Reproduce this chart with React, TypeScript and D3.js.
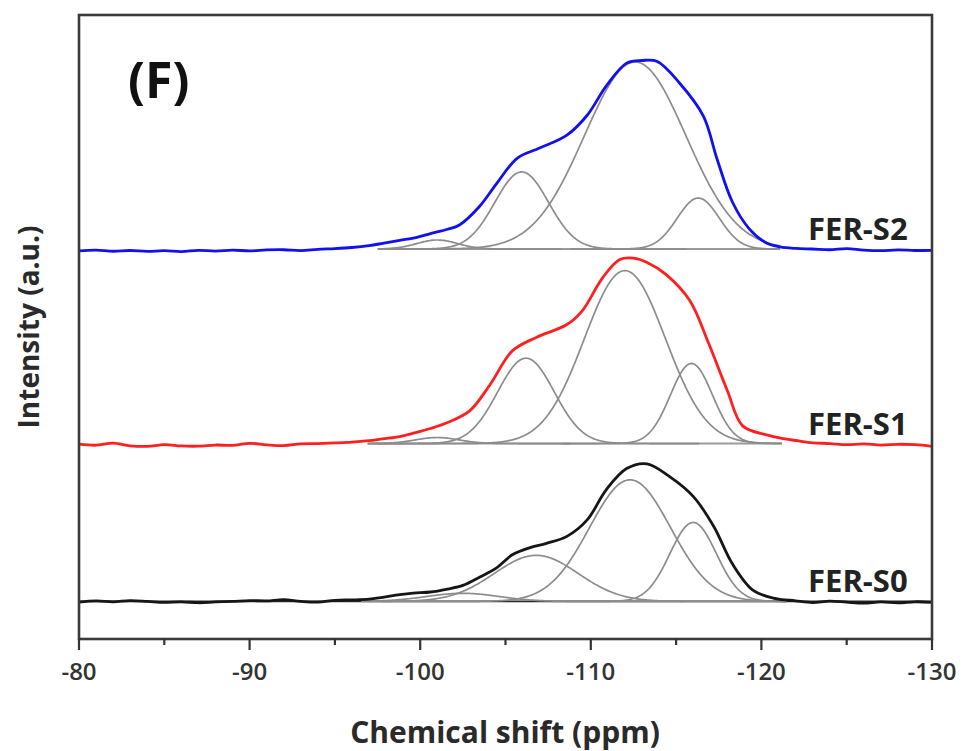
import React from "react";
import * as d3 from "d3";

// 29Si MAS NMR spectra of the FER samples with their Gaussian deconvolution

const X_TICKS = [-80, -90, -100, -110, -120, -130];
const X_MINOR = [-85, -95, -105, -115, -125];

const SAMPLE_NAMES = ["FER-S0", "FER-S1", "FER-S2"];
const SAMPLE_COLORS = ["#161616", "#ff1f1f", "#1010f0"];
const SAMPLE_OFFSETS = [0, 84, 187.5];

// measured spectra (chemical shift in ppm, intensity in a.u.)
const SHIFT_S0 = [-80, -81, -82, -83, -84, -85, -86, -87, -88, -89, -90, -91, -92, -93, -94, -95, -96, -97, -97.8, -98.8, -99.6, -100.6, -101.6, -102.5, -103.5, -104.5, -105.4, -106.4, -107.4, -108.6, -109.8, -110.9, -112.1, -113.3, -114.6, -116, -117.2, -118.3, -119.5, -120.7, -122, -123, -124, -125, -126, -127, -128, -129, -130];
const INT_S0 = [-0.4, 0.3, -0.2, 0.4, 0.0, -0.5, -0.2, -0.7, -0.3, 0.0, 0.4, 0.3, 0.9, 0.0, -0.4, 0.6, 0.8, 1.2, 2.2, 3.6, 4.4, 5.0, 6.6, 8.5, 13.0, 18.0, 24.8, 28.5, 30.9, 34.6, 43.5, 59.4, 70.7, 73.2, 66.5, 55.9, 40.0, 20.0, 6.0, 1.8, 0.3, -0.6, 0.2, -0.4, -0.9, -0.3, -0.8, -0.2, -0.5];

const SHIFT_S1 = [-80, -81, -82, -83, -84, -85, -86, -87, -88, -89, -90, -91, -92, -93, -94, -95, -96, -97, -97.8, -98.8, -99.6, -100.6, -101.6, -102.9, -104.1, -105.4, -106.8, -108.6, -109.5, -110.7, -111.7, -112.5, -113.3, -114.4, -115.8, -116.9, -118, -118.9, -120.3, -121.3, -122.1, -123, -124, -125, -126, -127, -128, -129, -130];
const INT_S1 = [-0.3, -0.9, 0.2, -1.2, -1.5, -0.6, -1.3, -1.4, -0.8, -1.0, 0.1, -0.7, -1.1, -0.2, 0.0, 0.3, 0.7, 1.5, 2.5, 3.7, 5.5, 8.0, 11.2, 17.4, 31.4, 49.3, 56.4, 63.3, 70.6, 88.3, 97.9, 98.6, 96.3, 90.0, 76.1, 53.5, 28.2, 9.4, 4.6, 2.6, 1.5, 0.4, 0.0, -0.6, -0.2, -0.8, -0.4, -0.6, -1.5];

const SHIFT_S2 = [-80, -81, -82, -83, -84, -85, -86, -87, -88, -89, -90, -91, -92, -93, -94, -95, -96, -97, -97.8, -98.8, -99.8, -100.6, -101.6, -102.3, -103.5, -104.5, -105.7, -107, -108.6, -109.8, -110.9, -112.1, -113, -113.9, -115.2, -116.6, -117.4, -118.3, -119.3, -120.3, -121.1, -122, -123, -124, -125, -126, -127, -128, -129, -130];
const INT_S2 = [-1.0, -0.6, -1.2, -0.8, -1.3, -0.9, -1.4, -0.7, -1.1, -0.6, -1.0, -0.5, -0.4, -0.9, -0.2, 0.2, 0.8, 1.8, 3.0, 4.6, 6.2, 8.2, 10.5, 12.8, 22.9, 35.1, 48.4, 53.7, 60.6, 71.3, 86.7, 98.9, 100.3, 99.8, 88.3, 70.7, 47.9, 25.0, 10.6, 3.2, 1.1, 0.3, 0.0, -0.4, 0.2, -0.6, -0.9, -0.5, -0.8, -0.7];

// fitted Gaussian components: centre (ppm), height (a.u.), FWHM (ppm)
const FIT_CENTERS_S0 = [-102.5, -106.8, -112.3, -116.0];
const FIT_HEIGHTS_S0 = [4.3, 24.5, 64.7, 42.0];
const FIT_WIDTHS_S0 = [5.0, 5.8, 5.6, 3.2];

const FIT_CENTERS_S1 = [-101.0, -106.2, -112.0, -115.9];
const FIT_HEIGHTS_S1 = [3.2, 45.4, 92.0, 42.6];
const FIT_WIDTHS_S1 = [3.0, 3.9, 5.6, 2.9];

const FIT_CENTERS_S2 = [-101.0, -105.95, -112.6, -116.3];
const FIT_HEIGHTS_S2 = [4.8, 41.0, 99.5, 27.1];
const FIT_WIDTHS_S2 = [2.8, 3.7, 7.0, 2.9];

// ppm window of each fit, and extent of the baseline line drawn under each spectrum
const FIT_WINDOWS = [[-96.5, -121.5], [-96.9, -121.2], [-97.5, -121.1]];
const BASELINE_RANGES = [[-80, -130], [-96.9, -121.2], [-97.5, -121.1]];

const W = 967;
const H = 751;
const M = { left: 79, right: 932, top: 15, bottom: 639 };
const FONT = "'Open Sans', 'Noto Sans', sans-serif";

export default function App() {
  const x = d3.scaleLinear().domain([-80, -130]).range([M.left, M.right]);
  const y = d3.scaleLinear().domain([-20, 312]).range([M.bottom, M.top]);

  const spectra = [
    { shift: SHIFT_S0, int: INT_S0 },
    { shift: SHIFT_S1, int: INT_S1 },
    { shift: SHIFT_S2, int: INT_S2 },
  ];
  const fits = [
    { c: FIT_CENTERS_S0, h: FIT_HEIGHTS_S0, w: FIT_WIDTHS_S0 },
    { c: FIT_CENTERS_S1, h: FIT_HEIGHTS_S1, w: FIT_WIDTHS_S1 },
    { c: FIT_CENTERS_S2, h: FIT_HEIGHTS_S2, w: FIT_WIDTHS_S2 },
  ];

  const line = d3
    .line<[number, number]>()
    .x((d) => x(d[0]))
    .y((d) => y(d[1]))
    .curve(d3.curveCatmullRom.alpha(0.5));

  const componentPath = (c: number, h: number, w: number, off: number, win: number[]) => {
    const lo = Math.max(c - 2.6 * w, win[1]);
    const hi = Math.min(c + 2.6 * w, win[0]);
    const pts: [number, number][] = d3
      .range(lo, hi, 0.05)
      .map((p) => [p, off + h * Math.exp((-4 * Math.LN2 * (p - c) * (p - c)) / (w * w))]);
    return d3.line<[number, number]>().x((d) => x(d[0])).y((d) => y(d[1]))(pts) || "";
  };

  return (
    <svg
      width={W}
      height={H}
      style={{ position: "absolute", left: 0, top: 0, display: "block", background: "#fff" }}
    >
      {/* fitted baselines */}
      {SAMPLE_OFFSETS.map((off, i) => (
        <line
          key={"bl" + i}
          x1={x(BASELINE_RANGES[i][0])}
          x2={x(BASELINE_RANGES[i][1])}
          y1={y(off)}
          y2={y(off)}
          stroke={i === 0 ? "#2a2a2a" : "#9a9a9a"}
          strokeWidth={i === 0 ? 1.8 : 2}
        />
      ))}

      {/* Gaussian components */}
      {fits.map((f, i) =>
        f.c.map((c, j) => (
          <path
            key={"fit" + i + "-" + j}
            d={componentPath(c, f.h[j], f.w[j], SAMPLE_OFFSETS[i], FIT_WINDOWS[i])}
            fill="none"
            stroke="#8c8c8c"
            strokeWidth={1.7}
          />
        ))
      )}

      {/* measured spectra */}
      {spectra.map((s, i) => (
        <path
          key={"sp" + i}
          d={line(s.shift.map((p, k) => [p, s.int[k] + SAMPLE_OFFSETS[i]] as [number, number])) || ""}
          fill="none"
          stroke={SAMPLE_COLORS[i]}
          strokeWidth={2.8}
          strokeLinejoin="round"
        />
      ))}

      {/* sample labels */}
      {SAMPLE_NAMES.map((name, i) => (
        <text
          key={name}
          x={808}
          y={y(SAMPLE_OFFSETS[i]) - 9}
          fontFamily={FONT}
          fontWeight={700}
          fontSize={31}
          fill="#222"
        >
          {name}
        </text>
      ))}

      {/* frame */}
      <rect
        x={M.left}
        y={M.top}
        width={M.right - M.left}
        height={M.bottom - M.top}
        fill="none"
        stroke="#3a3a3a"
        strokeWidth={2.6}
      />

      {/* x ticks */}
      {X_TICKS.map((t) => (
        <g key={"t" + t}>
          <line x1={x(t)} x2={x(t)} y1={M.bottom} y2={M.bottom + 11} stroke="#333" strokeWidth={2.2} />
          <text
            x={x(t)}
            y={M.bottom + 41}
            textAnchor="middle"
            fontFamily={FONT}
            fontWeight={600}
            fontSize={24}
            fill="#333"
          >
            {String(t)}
          </text>
        </g>
      ))}
      {X_MINOR.map((t) => (
        <line key={"m" + t} x1={x(t)} x2={x(t)} y1={M.bottom} y2={M.bottom + 6} stroke="#333" strokeWidth={2.2} />
      ))}

      {/* axis titles */}
      <text
        x={505}
        y={743}
        textAnchor="middle"
        fontFamily={FONT}
        fontWeight={700}
        fontSize={30}
        fill="#2a2a2a"
      >
        Chemical shift (ppm)
      </text>
      <text
        transform={`translate(39, 327) rotate(-90)`}
        textAnchor="middle"
        fontFamily={FONT}
        fontWeight={700}
        fontSize={28}
        fill="#2a2a2a"
      >
        Intensity (a.u.)
      </text>

      {/* panel letter */}
      <text x={128} y={98} fontFamily={FONT} fontWeight={700} fontSize={50} fill="#111">
        (F)
      </text>
    </svg>
  );
}
